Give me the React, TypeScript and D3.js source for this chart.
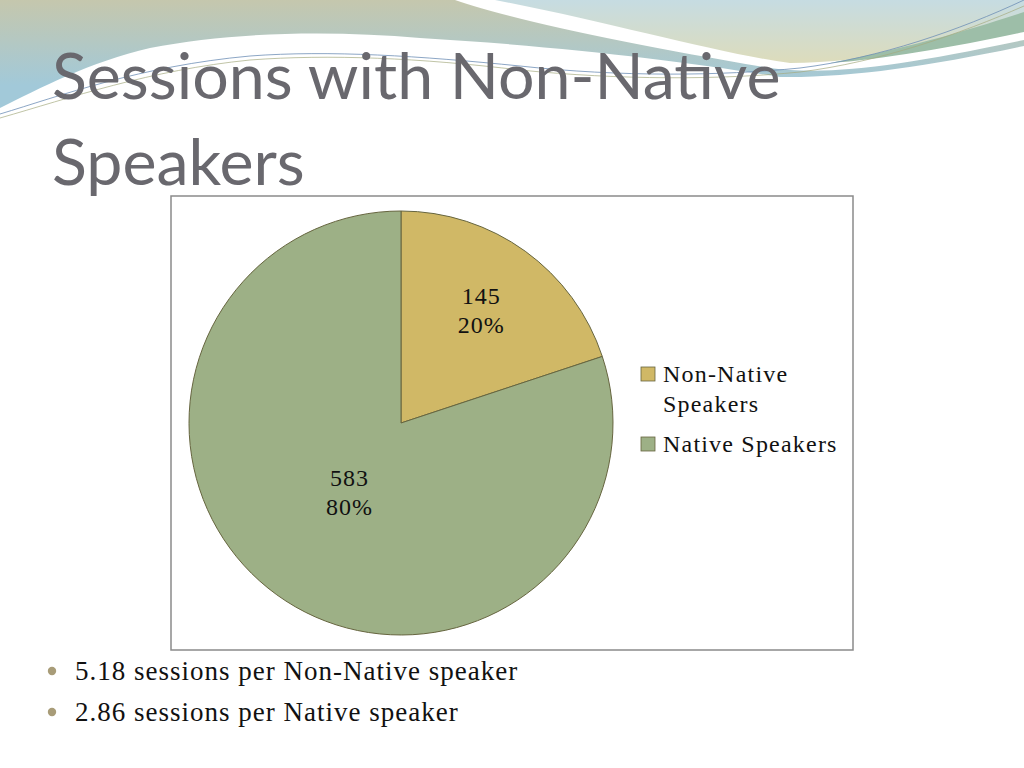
import { useEffect, useRef } from "react";
import * as d3 from "d3";

const categories = ["Non-Native Speakers", "Native Speakers"];
const legendLines = [["Non-Native", "Speakers"], ["Native Speakers"]];
const sessions = [145, 583];
const percents = ["20%", "80%"];
const colors = ["#d0b866", "#9db086"];
const titleLines = ["Sessions with Non-Native", "Speakers"];
const bullets = ["5.18 sessions per Non-Native speaker", "2.86 sessions per Native speaker"];

const serif = "'Book Antiqua', 'Palatino Linotype', Palatino, 'Liberation Serif', serif";

export default function App() {
  const svgRef = useRef<SVGSVGElement>(null);

  useEffect(() => {
    if (!svgRef.current) return;
    const svg = d3.select(svgRef.current);
    svg.selectAll("*").remove();

    // header waves
    const defs = svg.append("defs");
    const gl = defs.append("linearGradient").attr("id", "gl")
      .attr("gradientUnits", "userSpaceOnUse")
      .attr("x1", 0).attr("y1", 0).attr("x2", 0).attr("y2", 85);
    gl.append("stop").attr("offset", "0%").attr("stop-color", "#c5c7ad");
    gl.append("stop").attr("offset", "100%").attr("stop-color", "#a2c9d9");
    const gr = defs.append("linearGradient").attr("id", "gr")
      .attr("gradientUnits", "userSpaceOnUse")
      .attr("x1", 0).attr("y1", 0).attr("x2", 0).attr("y2", 60);
    gr.append("stop").attr("offset", "0%").attr("stop-color", "#c6dce2");
    gr.append("stop").attr("offset", "100%").attr("stop-color", "#dcdcbd");

    const header = svg.append("g");
    header.append("path")
      .attr("d", "M0,0 L455,0 C520,22 640,46 770,68 C830,76 900,66 1024,40 L1024,46 C930,66 850,78 780,77 C690,62 560,46 420,38 C330,30 230,32 150,48 C90,62 40,88 0,108 Z")
      .attr("fill", "url(#gl)");
    header.append("path")
      .attr("d", "M495,0 L1024,0 L1024,28 C960,44 870,62 790,63 C720,54 610,22 495,0 Z")
      .attr("fill", "url(#gr)");
    header.append("path")
      .attr("d", "M830,63 C900,50 970,30 1024,12 L1024,32 C960,46 880,60 830,63 Z")
      .attr("fill", "#9dbea8");
    header.append("path")
      .attr("d", "M0,114 C60,96 140,66 250,56 C330,50 420,56 520,66 C620,77 720,76 800,68 C880,58 960,30 1024,0")
      .attr("fill", "none").attr("stroke", "#6f8fb6").attr("stroke-width", 0.8);
    header.append("path")
      .attr("d", "M0,118 C70,98 150,70 250,60 C330,54 420,58 520,70 C620,80 720,80 800,72 C880,62 960,34 1024,6")
      .attr("fill", "none").attr("stroke", "#a5ab80").attr("stroke-width", 0.7);

    // title
    const title = svg.append("g")
      .attr("font-family", "Lato, 'Open Sans', sans-serif")
      .attr("font-size", 64.5)
      .attr("fill", "#69686e");
    title.selectAll("text")
      .data(titleLines)
      .enter()
      .append("text")
      .attr("x", 52)
      .attr("y", (_, i) => 99 + i * 86)
      .text((d) => d);

    // chart frame
    svg.append("rect")
      .attr("x", 171).attr("y", 196).attr("width", 682).attr("height", 454)
      .attr("fill", "#ffffff").attr("stroke", "#8a8a8a").attr("stroke-width", 1.5);

    const cx = 401;
    const cy = 423;
    const radius = 212;
    const pie = d3.pie<number>().sort(null).value((d) => d);
    const arcs = pie(sessions);
    const arc = d3.arc<d3.PieArcDatum<number>>().innerRadius(0).outerRadius(radius);
    const labelR = [137, 88];

    const g = svg.append("g").attr("transform", `translate(${cx},${cy})`);
    g.selectAll("path.slice")
      .data(arcs)
      .enter()
      .append("path")
      .attr("class", "slice")
      .attr("d", arc)
      .attr("fill", (_, i) => colors[i])
      .attr("stroke", "#66653f")
      .attr("stroke-width", 1);

    const labels = g.selectAll("text.lbl")
      .data(arcs)
      .enter()
      .append("text")
      .attr("class", "lbl")
      .attr("font-family", serif)
      .attr("font-size", 24)
      .attr("letter-spacing", 1)
      .attr("fill", "#111")
      .attr("text-anchor", "middle")
      .attr("transform", (d, i) => {
        const c = d3.arc<d3.PieArcDatum<number>>().innerRadius(labelR[i]).outerRadius(labelR[i]).centroid(d);
        return `translate(${c[0]},${c[1]})`;
      });
    labels.append("tspan").attr("x", 0).attr("y", -8).text((d) => String(d.data));
    labels.append("tspan").attr("x", 0).attr("y", 21).text((_, i) => percents[i]);

    // legend
    const legend = svg.append("g").attr("transform", "translate(641,367)");
    const item = legend.selectAll("g")
      .data(categories)
      .enter()
      .append("g")
      .attr("transform", (_, i) => `translate(0,${i * 70})`);
    item.append("rect")
      .attr("width", 14).attr("height", 14)
      .attr("fill", (_, i) => colors[i])
      .attr("stroke", "#66653f").attr("stroke-width", 0.8);
    item.append("text")
      .attr("font-family", serif)
      .attr("font-size", 24)
      .attr("letter-spacing", 1.2)
      .attr("fill", "#111")
      .selectAll("tspan")
      .data((_, i) => legendLines[i])
      .enter()
      .append("tspan")
      .attr("x", 22)
      .attr("y", (_, j) => 15 + j * 30)
      .text((d) => d);

    // bullets
    const b = svg.append("g");
    const rows = b.selectAll("g")
      .data(bullets)
      .enter()
      .append("g")
      .attr("transform", (_, i) => `translate(0,${680 + i * 41})`);
    rows.append("circle").attr("cx", 52).attr("cy", -9).attr("r", 4.2).attr("fill", "#a89c78");
    rows.append("text")
      .attr("x", 75)
      .attr("font-family", serif)
      .attr("font-size", 27)
      .attr("letter-spacing", 1)
      .attr("fill", "#111")
      .text((d) => d);
  }, []);

  return (
    <svg
      ref={svgRef}
      width={1024}
      height={768}
      style={{ position: "absolute", left: 0, top: 0, background: "#ffffff" }}
    />
  );
}
